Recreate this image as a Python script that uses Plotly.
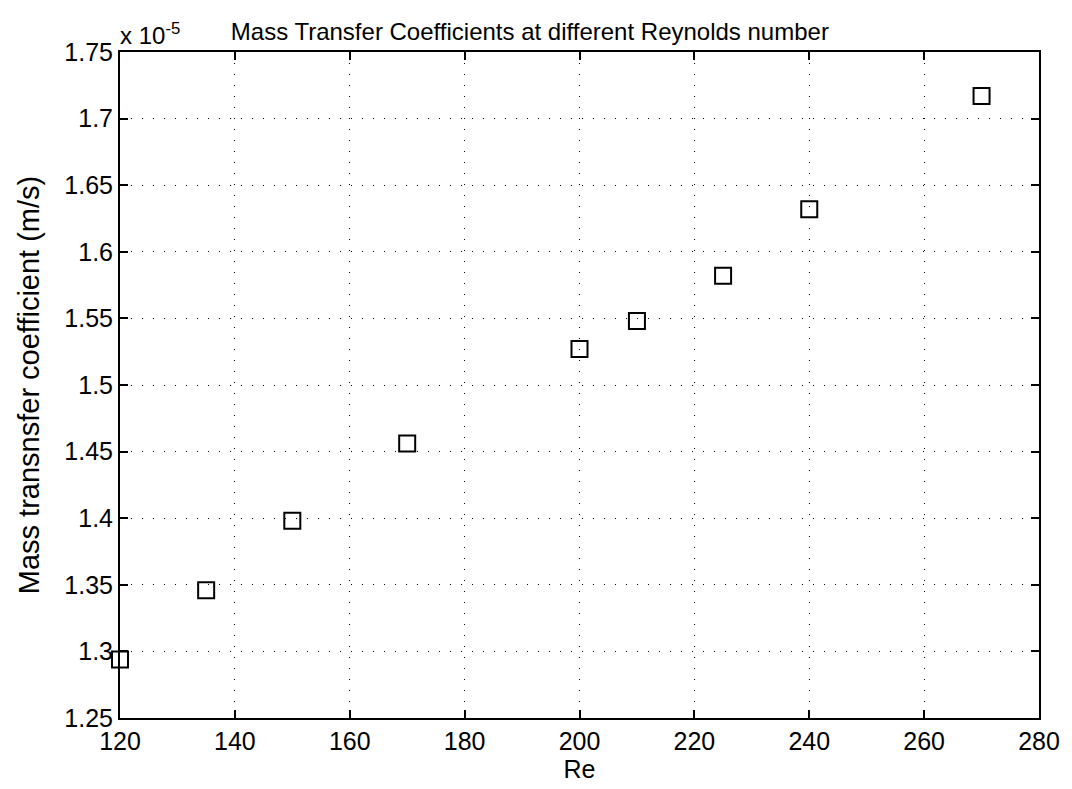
import plotly.graph_objects as go

# Reynolds numbers and mass transfer coefficients (in units of 1e-5 m/s)
reynolds = [120, 135, 150, 170, 200, 210, 225, 240, 270]
mass_transfer_coeff = [1.294, 1.346, 1.398, 1.456, 1.527, 1.548, 1.582, 1.632, 1.717]

x_ticks = [120, 140, 160, 180, 200, 220, 240, 260, 280]
y_ticks = [1.25, 1.3, 1.35, 1.4, 1.45, 1.5, 1.55, 1.6, 1.65, 1.7, 1.75]
y_tick_text = ["1.25", "1.3", "1.35", "1.4", "1.45", "1.5", "1.55", "1.6", "1.65", "1.7", "1.75"]

FONT = "Liberation Sans, Arial, sans-serif"

fig = go.Figure()
fig.add_trace(go.Scatter(
    x=reynolds,
    y=mass_transfer_coeff,
    mode="markers",
    marker=dict(symbol="square-open", size=16, color="black", line=dict(width=2, color="black")),
    showlegend=False,
    cliponaxis=False,
))

axis_common = dict(
    showline=True, linecolor="black", linewidth=2, mirror="allticks",
    ticks="inside", ticklen=8, tickwidth=1.5, tickcolor="black",
    showgrid=True, gridcolor="black", gridwidth=1, griddash="1px,10px",
    zeroline=False,
    tickfont=dict(family=FONT, size=25, color="black"),
)

fig.update_xaxes(
    range=[120, 280], tickvals=x_ticks,
    title=dict(text="Re", font=dict(family=FONT, size=25, color="black"), standoff=4),
    **axis_common,
)
fig.update_yaxes(
    range=[1.25, 1.75], tickvals=y_ticks, ticktext=y_tick_text,
    title=dict(text="Mass transnsfer coefficient (m/s)", font=dict(family=FONT, size=29, color="black"), standoff=16),
    **axis_common,
)

fig.add_annotation(
    text="x 10<sup>-5</sup>", xref="paper", yref="paper", x=0, y=1,
    xanchor="left", yanchor="bottom", showarrow=False, yshift=1, xshift=-2,
    font=dict(family=FONT, size=24, color="black"),
)

fig.update_layout(
    width=1072, height=789,
    margin=dict(l=120, r=28, t=52, b=70),
    paper_bgcolor="white", plot_bgcolor="white",
    title=dict(text="Mass Transfer Coefficients at different Reynolds number",
               x=0.446, xref="paper", xanchor="center",
               y=1, yref="paper", yanchor="bottom", pad=dict(b=12),
               font=dict(family=FONT, size=24, color="black")),
)

fig.write_html("out.html")
